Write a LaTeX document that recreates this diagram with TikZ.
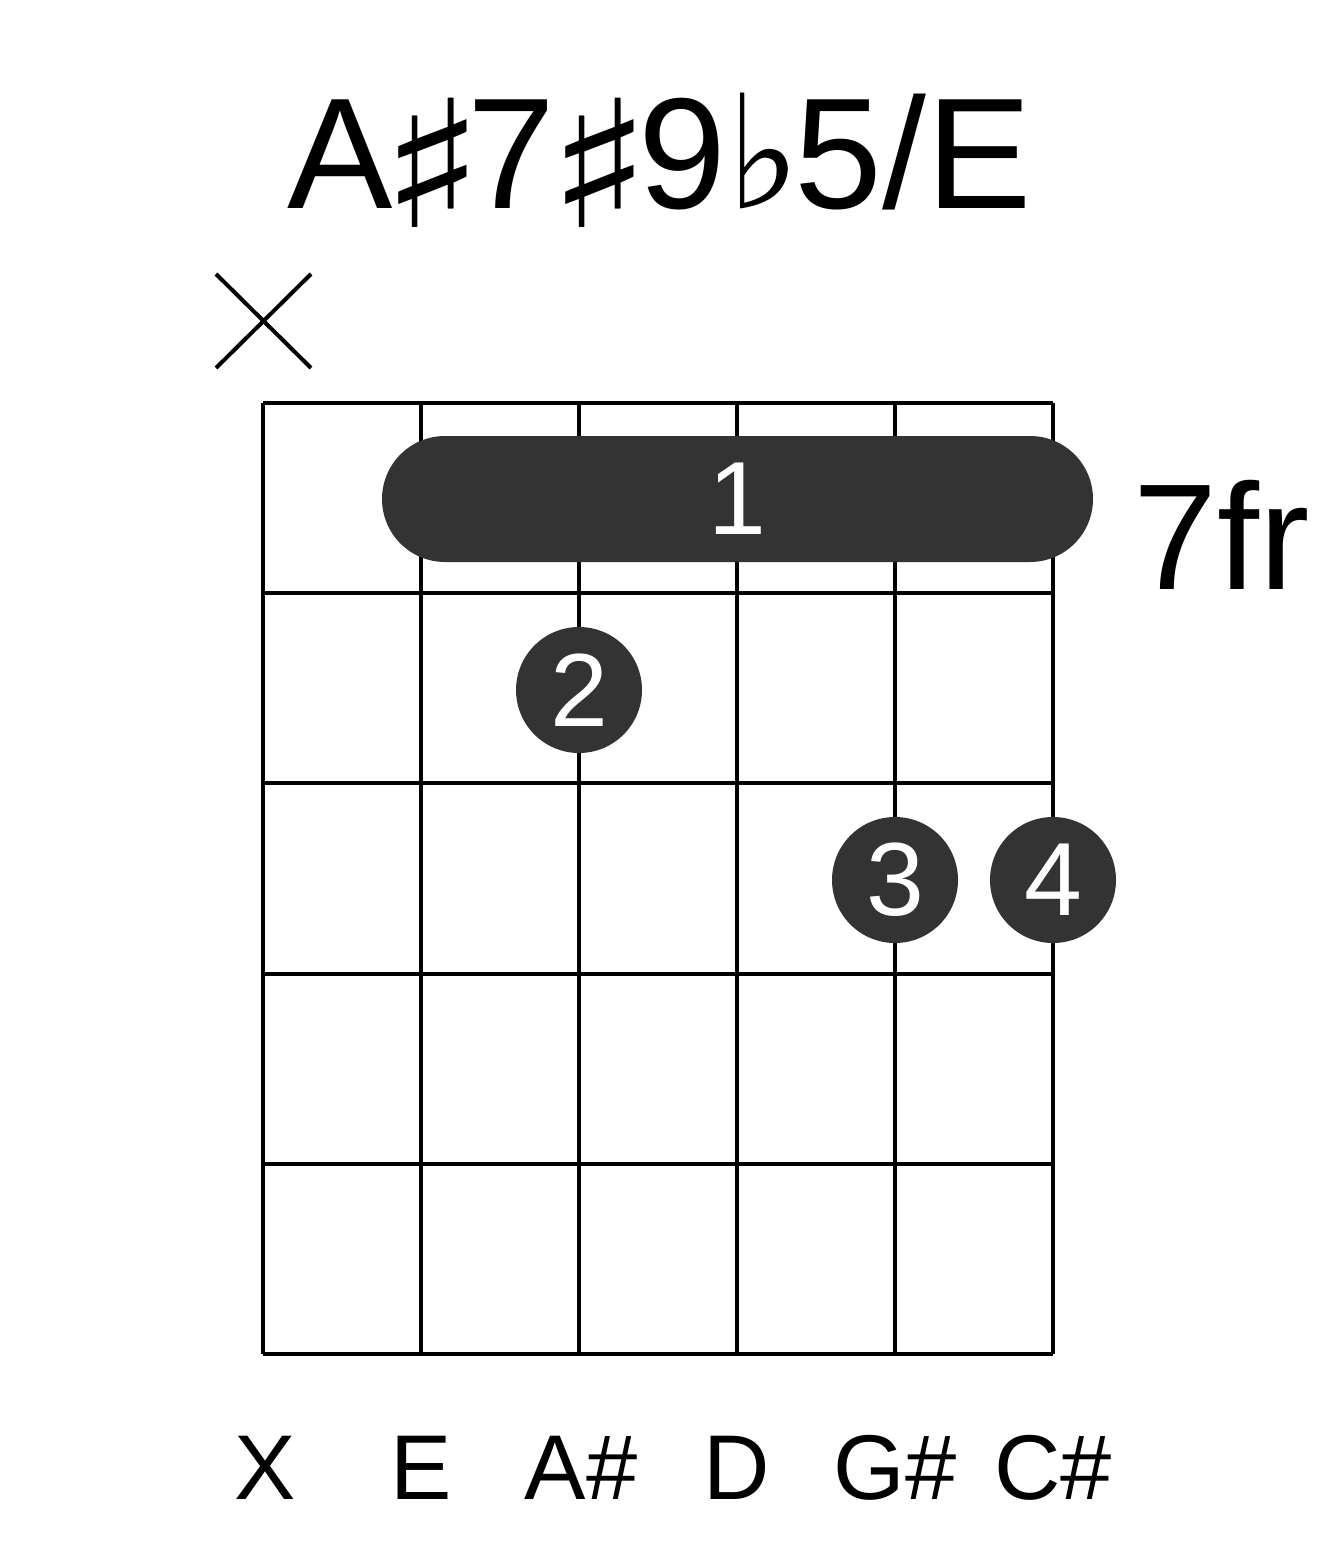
\documentclass[tikz,border=0pt]{standalone}
\usepackage{fontspec}
\setmainfont{Liberation Sans}
\newfontfamily\dejavu{DejaVu Sans}
\definecolor{dotgray}{RGB}{51,51,51}
\newcommand{\mysharp}[1]{\makebox[#1]{\hspace{2.6pt}\raisebox{-9.25pt}{\dejavu\fontsize{88.5}{88.5}\selectfont\scalebox{1.22}[1]{♯}}}}
\newcommand{\myflat}{\makebox[34.2pt]{\hspace{3pt}{\dejavu ♭}}}
\begin{document}
\begin{tikzpicture}[x=0.5pt,y=-0.5pt,
  gridline/.style={line width=2pt,black},
  finger/.style={circle,fill=dotgray,minimum size=63pt,inner sep=0pt,text=white,font=\fontsize{52}{52}\selectfont},
  barre/.style={rectangle,rounded corners=31.5pt,fill=dotgray,minimum width=355.5pt,minimum height=63pt,inner sep=0pt,text=white,font=\fontsize{52}{52}\selectfont},
  strlabel/.style={anchor=base,inner sep=0pt,font=\fontsize{46}{46}\selectfont}]
\useasboundingbox (0,0) rectangle (1317,1551);
% title
\node[anchor=base west,inner sep=0pt,font=\fontsize{79}{79}\selectfont] (title) at (287,209) {A\mysharp{37.5pt}7\mysharp{41.5pt}9\myflat5/E};
% muted marker
\coordinate (xa) at (216,274); \coordinate (xb) at (311,368);
\coordinate (xc) at (311,274); \coordinate (xd) at (216,368);
\draw[gridline] (xa) -- (xb);
\draw[gridline] (xc) -- (xd);
% grid
\foreach \i in {0,...,5} {
  \draw[gridline] (263+158*\i,403) -- (263+158*\i,1354);
}
\foreach \j in {0,...,5} {
  \draw[gridline] (263,403+190.2*\j) -- (1053,403+190.2*\j);
}
% barre
\node[barre] (f1) at (737.5,499) {1};
% fingers
\node[finger] (f2) at (579,690) {2};
\node[finger] (f3) at (895,880) {3};
\node[finger] (f4) at (1053,880) {4};
% fret label
\node[anchor=base west,inner sep=0pt,font=\fontsize{75.5}{75.5}\selectfont] (fr) at (1133,589) {7fr};
% string labels
\node[strlabel] (s1) at (265,1499) {X};
\node[strlabel] (s2) at (421,1499) {E};
\node[strlabel] (s3) at (581,1499) {A\#};
\node[strlabel] (s4) at (737,1499) {D};
\node[strlabel] (s5) at (895,1499) {G\#};
\node[strlabel] (s6) at (1053,1499) {C\#};
\end{tikzpicture}
\end{document}
